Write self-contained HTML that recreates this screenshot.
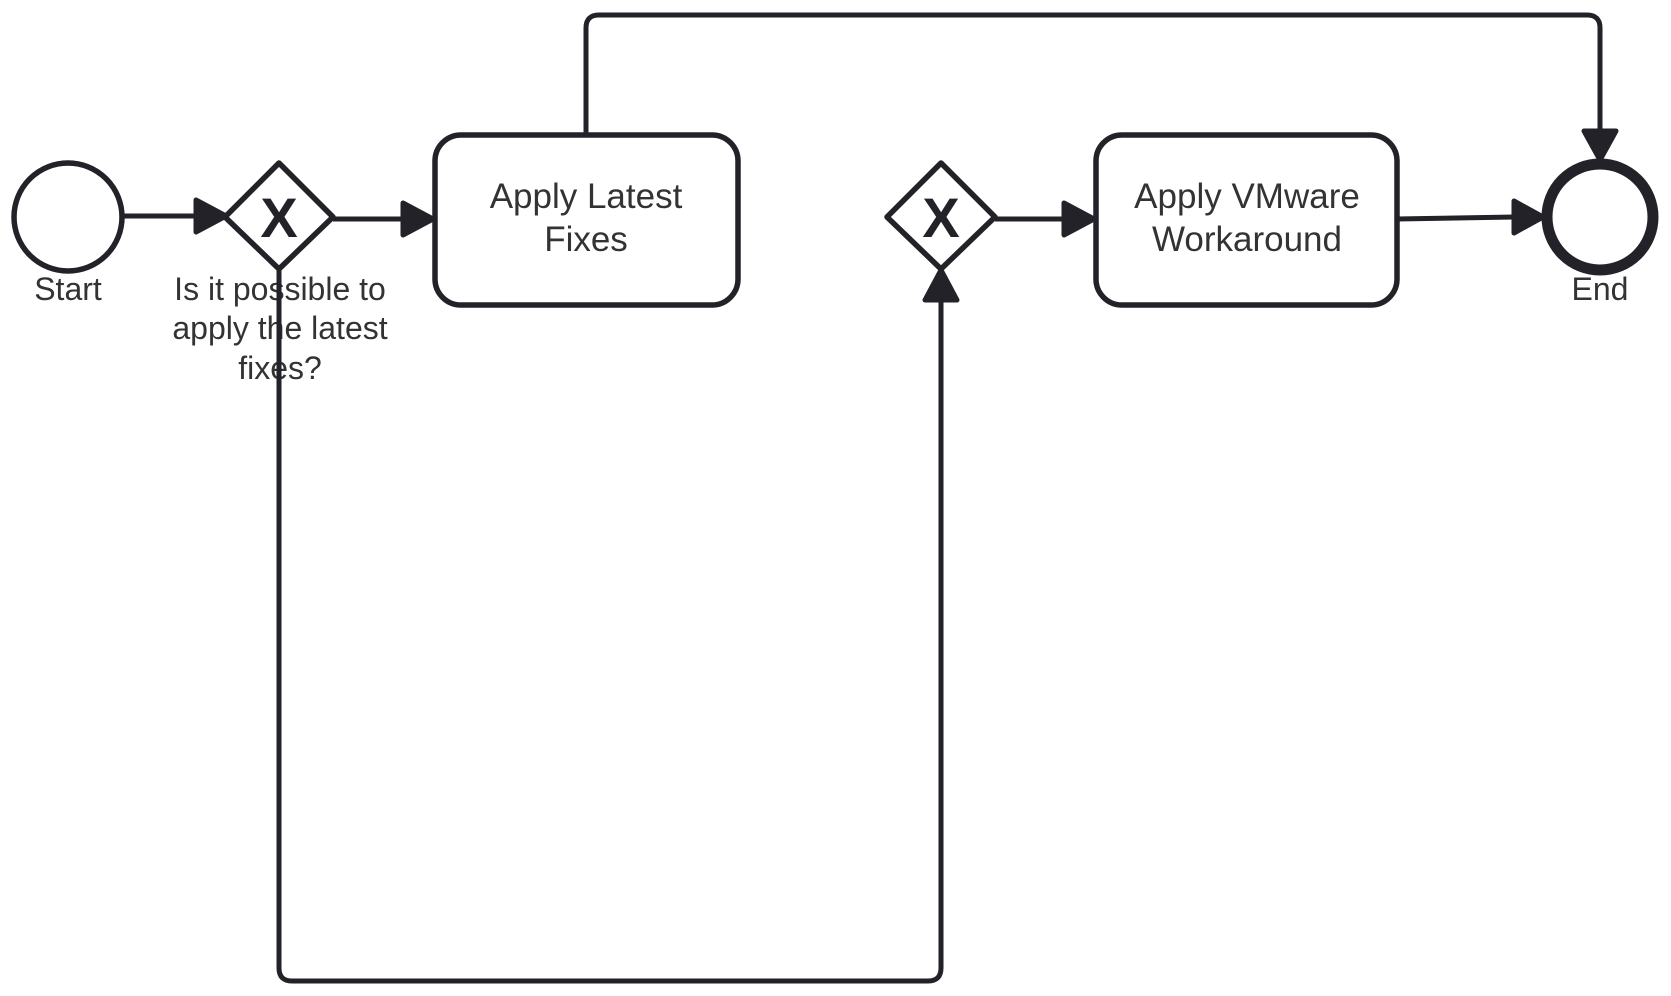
<!DOCTYPE html>
<html><head><meta charset="utf-8"><style>
html,body{margin:0;padding:0;background:#fff;}
svg{display:block;}
text{font-family:"Liberation Sans",Arial,sans-serif;font-size:32px;fill:#333;text-anchor:middle;}
.t{font-size:35px;}
</style></head><body>
<svg width="1671" height="996" viewBox="0 0 1671 996" xmlns="http://www.w3.org/2000/svg">
<g stroke="#222228" stroke-width="5" fill="none" stroke-linejoin="round">
<line x1="123" y1="216" x2="200" y2="216"/>
<polygon points="196,200 226,216 196,232" fill="#222228"/>
<line x1="333" y1="219" x2="405" y2="219"/>
<polygon points="403,203 433,219 403,235" fill="#222228"/>
<line x1="995" y1="219" x2="1066" y2="219"/>
<polygon points="1064,203 1094,219 1064,235" fill="#222228"/>
<line x1="1397" y1="219" x2="1515" y2="217"/>
<polygon points="1514,201 1543,217 1514,233" fill="#222228"/>
<path d="M586 134 V28 Q586 15 599 15 H1587 Q1600 15 1600 28 V130"/>
<polygon points="1584,131 1600,160 1616,131" fill="#222228"/>
<path d="M279 268 V968 Q279 981 292 981 H928 Q941 981 941 968 V298"/>
<polygon points="925,300 941,270 957,300" fill="#222228"/>
<g stroke-width="5.5">
<circle cx="68" cy="217" r="54" fill="#fff"/>
<polygon points="279,163 333,217 279,269 225,217" fill="#fff"/>
<polygon points="941,163 995,217 941,269 887,217" fill="#fff"/>
<rect x="435" y="135" width="303" height="170" rx="26" fill="#fff"/>
<rect x="1096" y="135" width="301" height="170" rx="26" fill="#fff"/>
</g>
<circle cx="1600" cy="217" r="53" stroke-width="11" fill="#fff"/>
</g>
<text x="279" y="237" style="font-size:56px;font-weight:bold;fill:#222228">X</text>
<text x="941" y="237" style="font-size:56px;font-weight:bold;fill:#222228">X</text>
<text class="t" x="586" y="208">Apply Latest</text>
<text class="t" x="586" y="251">Fixes</text>
<text class="t" x="1247" y="208">Apply VMware</text>
<text class="t" x="1247" y="251">Workaround</text>
<text x="68" y="300">Start</text>
<text x="1600" y="300">End</text>
<text x="280" y="300">Is it possible to</text>
<text x="280" y="339">apply the latest</text>
<text x="280" y="379">fixes?</text>
<line x1="279" y1="268" x2="279" y2="400" stroke="#222228" stroke-width="5"/>
</svg>
</body></html>
